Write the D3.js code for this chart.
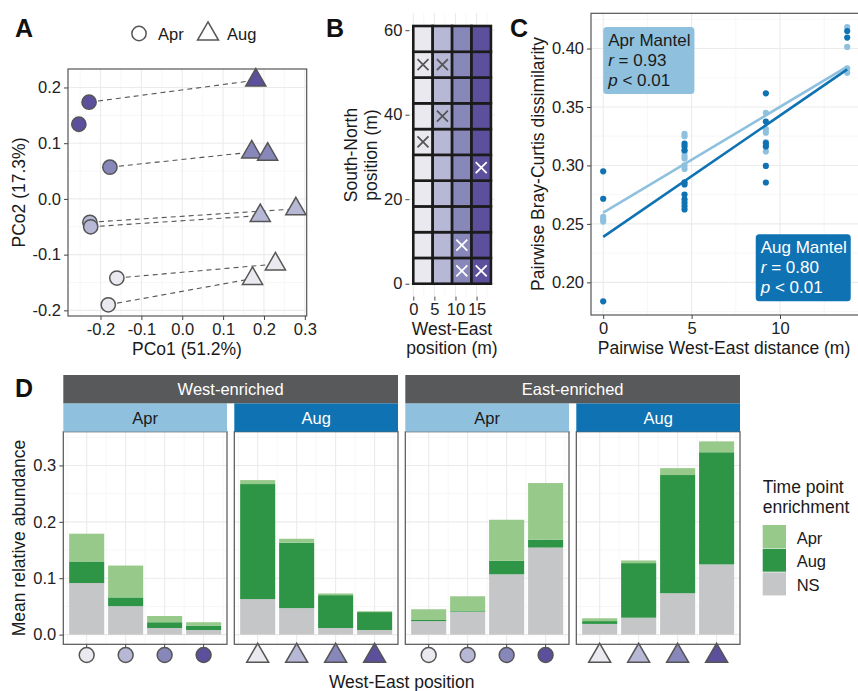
<!DOCTYPE html>
<html>
<head>
<meta charset="utf-8">
<script src="https://cdn.jsdelivr.net/npm/d3@7"></script>
<style>
  body { margin: 0; background: #fff; }
  svg text { font-family: "Liberation Sans", Arial, Helvetica, sans-serif; }
</style>
</head>
<body>
<svg id="fig" width="858" height="691"></svg>
<script>
// ---------- data ----------
// west -> east sampling columns (1 = west, 4 = east)
const weColors = ["#e9e9ef", "#b7b7d6", "#8887ba", "#5c4f9c"];

// A: PCoA scores
const aprCol = [4, 4, 3, 2, 2, 1, 1];
const aprPC1 = [-0.228, -0.253, -0.177, -0.226, -0.224, -0.160, -0.181];
const aprPC2 = [0.1735, 0.134, 0.057, -0.042, -0.050, -0.142, -0.190];
const augCol = [4, 3, 3, 2, 2, 1, 1];
const augPC1 = [0.180, 0.170, 0.209, 0.278, 0.191, 0.228, 0.172];
const augPC2 = [0.213, 0.084, 0.080, -0.018, -0.030, -0.117, -0.143];
// same plot sampled at both time points: [apr index, aug index]
const pcoaPairs = [[0, 0], [2, 1], [3, 3], [4, 4], [5, 5], [6, 6]];

// B: sampling grid
const gridWE = [0, 4.6, 9.2, 13.8];
const gridSN = [0, 6.1, 12.2, 18.3, 24.4, 30.5, 36.6, 42.7, 48.8, 54.9];
const cellW = 4.6, cellH = 6.1;
const missWE = [0, 4.6, 4.6, 0, 13.8, 9.2, 9.2, 13.8];
const missSN = [48.8, 48.8, 36.6, 30.5, 24.4, 6.1, 0, 0];

// C: pairwise distance vs Bray-Curtis
const pairDist = [0, 4.6, 9.2, 13.8];
const aprBC = [
  [0.256, 0.254, 0.252],
  [0.327, 0.325, 0.313, 0.311, 0.308, 0.306, 0.300, 0.297],
  [0.345, 0.331, 0.328, 0.320, 0.317, 0.312],
  [0.4184, 0.4014, 0.383, 0.3792]
];
const augBC = [
  [0.295, 0.2715, 0.1838],
  [0.3186, 0.3163, 0.3129, 0.2856, 0.2837, 0.2751, 0.2709, 0.2681, 0.2652, 0.2624],
  [0.3617, 0.3375, 0.3192, 0.3163, 0.2996, 0.2854],
  [0.415, 0.4094]
];
const mantelApr = ["Apr Mantel", "r", "0.93", "0.01"];
const mantelAug = ["Aug Mantel", "r", "0.80", "0.01"];

// D: mean relative abundance per west-east position (segments, not cumulative)
const positions = [1, 2, 3, 4];
const westAprNS  = [0.0915, 0.0505, 0.0118, 0.0082];
const westAprAug = [0.0382, 0.0155, 0.0102, 0.0078];
const westAprApr = [0.0493, 0.0565, 0.0110, 0.0060];
const westAugNS  = [0.063, 0.047, 0.0118, 0.0082];
const westAugAug = [0.204, 0.116, 0.0582, 0.0318];
const westAugApr = [0.007, 0.007, 0.003, 0.0015];
const eastAprNS  = [0.024, 0.0405, 0.107, 0.1544];
const eastAprAug = [0.002, 0.0012, 0.024, 0.0141];
const eastAprApr = [0.019, 0.0263, 0.0727, 0.1003];
const eastAugNS  = [0.019, 0.030, 0.0734, 0.1245];
const eastAugAug = [0.005, 0.0968, 0.2096, 0.1989];
const eastAugApr = [0.005, 0.0047, 0.0122, 0.0193];
const enrichKeys = ["NS", "Aug", "Apr"];
const enrichColors = {Apr: "#97c98a", Aug: "#2e9546", NS: "#c5c6c8"};
const timeColors = {Apr: "#8fc1df", Aug: "#0f72b3"};

// ---------- helpers ----------
const svg = d3.select("#fig");
const fmt = d3.formatLocale({decimal: ".", thousands: ",", grouping: [3], currency: ["", ""], minus: "-"}).format;
const ff = '"Liberation Sans", Arial, Helvetica, sans-serif';

function expand(ext, f = 0.05) {
  let d = (ext[1] - ext[0]) * f;
  return [ext[0] - d, ext[1] + d];
}

// theme_bw-like grid (pixel positions)
function drawGrid(g, xr, yr, xMaj, xMin, yMaj, yMin) {
  let gg = g.append("g");
  let v = (arr, w, c) => gg.append("g").selectAll("line").data(arr).join("line")
    .attr("x1", d => d).attr("x2", d => d).attr("y1", yr[0]).attr("y2", yr[1])
    .attr("stroke", c).attr("stroke-width", w);
  let h = (arr, w, c) => gg.append("g").selectAll("line").data(arr).join("line")
    .attr("y1", d => d).attr("y2", d => d).attr("x1", xr[0]).attr("x2", xr[1])
    .attr("stroke", c).attr("stroke-width", w);
  v(xMin, 0.6, "#f2f2f2"); h(yMin, 0.6, "#f2f2f2");
  v(xMaj, 1.1, "#ebebeb"); h(yMaj, 1.1, "#ebebeb");
}

function border(g, x0, y0, x1, y1) {
  g.append("rect").attr("x", x0).attr("y", y0).attr("width", x1 - x0).attr("height", y1 - y0)
    .attr("fill", "none").attr("stroke", "#555").attr("stroke-width", 1.2);
}

function styleAxis(a) {
  a.attr("font-family", ff).attr("font-size", 16.5);
  a.select(".domain").remove();
  a.selectAll(".tick line").attr("stroke", "#444");
  a.selectAll(".tick text").attr("fill", "#222");
}

function label(x, y, txt, opts = {}) {
  let t = svg.append("text").attr("x", x).attr("y", y).text(txt)
    .attr("font-size", opts.size || 17.5).attr("fill", opts.fill || "#1a1a1a")
    .attr("text-anchor", opts.anchor || "middle");
  if (opts.rotate) t.attr("transform", `rotate(-90,${x},${y})`);
  if (opts.bold) t.attr("font-weight", "bold");
  return t;
}

function shape(sel, type, col, size) {
  sel.attr("d", d3.symbol(type === "Aug" ? d3.symbolTriangle : d3.symbolCircle, size))
    .attr("fill", col).attr("stroke", "#555").attr("stroke-width", 1.5);
}

function lm(xs, ys) {
  let mx = d3.mean(xs), my = d3.mean(ys);
  let sxy = d3.sum(xs, (x, i) => (x - mx) * (ys[i] - my));
  let sxx = d3.sum(xs, x => (x - mx) * (x - mx));
  let b = sxy / sxx;
  return [my - b * mx, b];
}

// panel letters
[["A", 15, 37], ["B", 326, 37], ["C", 510, 37], ["D", 15, 397]].forEach(([t, x, y]) =>
  label(x, y, t, {size: 25, bold: true, anchor: "start", fill: "#111"}));

// ---------- A: PCoA ----------
{
  let g = svg.append("g");
  let x = d3.scaleLinear().domain(expand(d3.extent([...aprPC1, ...augPC1]))).range([68, 306.7]);
  let y = d3.scaleLinear().domain(expand(d3.extent([...aprPC2, ...augPC2]))).range([316, 69]);
  drawGrid(g, x.range(), y.range(),
    [-0.2, -0.1, 0, 0.1, 0.2, 0.3].map(x), [-0.25, -0.15, -0.05, 0.05, 0.15, 0.25].map(x),
    [-0.2, -0.1, 0, 0.1, 0.2].map(y), [-0.15, -0.05, 0.05, 0.15].map(y));

  g.append("g").selectAll("line").data(pcoaPairs).join("line")
    .attr("x1", d => x(aprPC1[d[0]])).attr("y1", d => y(aprPC2[d[0]]))
    .attr("x2", d => x(augPC1[d[1]])).attr("y2", d => y(augPC2[d[1]]))
    .attr("stroke", "#555").attr("stroke-width", 1.1).attr("stroke-dasharray", "5,4");

  g.append("g").selectAll("path").data(aprPC1).join("path")
    .attr("transform", (d, i) => `translate(${x(d)},${y(aprPC2[i])})`)
    .call(s => shape(s, "Apr", null, 160))
    .attr("fill", (d, i) => weColors[aprCol[i] - 1]);
  g.append("g").selectAll("path").data(augPC1).join("path")
    .attr("transform", (d, i) => `translate(${x(d)},${y(augPC2[i])})`)
    .call(s => shape(s, "Aug", null, 175))
    .attr("fill", (d, i) => weColors[augCol[i] - 1]);

  border(g, 68, 69, 306.7, 316);
  g.append("g").attr("transform", "translate(68,0)")
    .call(d3.axisLeft(y).tickValues([-0.2, -0.1, 0, 0.1, 0.2]).tickFormat(fmt(".1f")).tickSize(4).tickPadding(3))
    .call(styleAxis);
  g.append("g").attr("transform", "translate(0,316)")
    .call(d3.axisBottom(x).tickValues([-0.2, -0.1, 0, 0.1, 0.2, 0.3]).tickFormat(fmt(".1f")).tickSize(4).tickPadding(3))
    .call(styleAxis);

  label(187, 355, "PCo1 (51.2%)");
  label(25, 192.5, "PCo2 (17.3%)", {rotate: true});

  // shape legend
  let lg = svg.append("g");
  lg.append("path").attr("transform", "translate(139,33.5)").call(s => shape(s, "Apr", "#fff", 160));
  lg.append("path").attr("transform", "translate(208,34)").call(s => shape(s, "Aug", "#fff", 190));
  label(158, 40, "Apr", {anchor: "start", size: 16.5});
  label(227, 40, "Aug", {anchor: "start", size: 16.5});
}

// ---------- B: sampling grid ----------
{
  let g = svg.append("g");
  let x = d3.scaleLinear().domain(expand([0, gridWE[3] + cellW])).range([409.4, 494.8]);
  let y = d3.scaleLinear().domain(expand([0, gridSN[9] + cellH])).range([296.6, 13.1]);
  drawGrid(g, x.range(), y.range(),
    [0, 5, 10, 15].map(x), [2.5, 7.5, 12.5, 17.5].map(x),
    [0, 20, 40, 60].map(y), [10, 30, 50].map(y));

  let cells = gridSN.flatMap(sn => gridWE.map((we, c) => ({we, sn, c})));
  g.append("g").selectAll("rect").data(cells).join("rect")
    .attr("x", d => x(d.we)).attr("y", d => y(d.sn + cellH))
    .attr("width", x(cellW) - x(0)).attr("height", y(0) - y(cellH))
    .attr("fill", d => weColors[d.c]).attr("stroke", "#1b1b1b").attr("stroke-width", 2.6);

  let k = 5.5;
  g.append("g").selectAll("path").data(missWE).join("path")
    .attr("d", (d, i) => {
      let cx = x(d + cellW / 2), cy = y(missSN[i] + cellH / 2);
      return `M${cx - k},${cy - k}L${cx + k},${cy + k}M${cx - k},${cy + k}L${cx + k},${cy - k}`;
    })
    .attr("stroke", d => gridWE.indexOf(d) >= 2 ? "#fff" : "#555").attr("stroke-width", 1.8);

  g.append("g").attr("transform", "translate(409.4,0)")
    .call(d3.axisLeft(y).tickValues([0, 20, 40, 60]).tickSize(4).tickPadding(3))
    .call(styleAxis);
  g.append("g").attr("transform", "translate(0,296.6)")
    .call(d3.axisBottom(x).tickValues([0, 5, 10, 15]).tickSize(4).tickPadding(3))
    .call(styleAxis);

  label(357, 155, "South-North", {rotate: true});
  label(377, 155, "position (m)", {rotate: true});
  label(452, 335, "West-East");
  label(452, 354, "position (m)");
}

// ---------- C: distance decay ----------
{
  let g = svg.append("g");
  let allBC = [...aprBC.flat(), ...augBC.flat()];
  let x = d3.scaleLinear().domain(expand([0, pairDist[3]])).range([591, 859.4]);
  let y = d3.scaleLinear().domain(expand(d3.extent(allBC))).range([315, 13.3]);
  drawGrid(g, x.range(), y.range(),
    [0, 5, 10].map(x), [2.5, 7.5, 12.5].map(x),
    [0.2, 0.25, 0.3, 0.35, 0.4].map(y), [0.175, 0.225, 0.275, 0.325, 0.375, 0.425].map(y));

  let pts = (bc, t) => bc.flatMap((vals, i) => vals.map(v => ({d: pairDist[i], v, t})));
  let aprPts = pts(aprBC, "Apr"), augPts = pts(augBC, "Aug");
  g.append("g").selectAll("circle").data([...aprPts, ...augPts]).join("circle")
    .attr("cx", d => x(d.d)).attr("cy", d => y(d.v)).attr("r", 3.1)
    .attr("fill", d => timeColors[d.t]);

  [[aprPts, "Apr"], [augPts, "Aug"]].forEach(([p, t]) => {
    let [a, b] = lm(p.map(d => d.d), p.map(d => d.v));
    g.append("line")
      .attr("x1", x(0)).attr("y1", y(a)).attr("x2", x(pairDist[3])).attr("y2", y(a + b * pairDist[3]))
      .attr("stroke", timeColors[t]).attr("stroke-width", 2.6);
  });

  // Mantel labels
  function mantel(m, px, py, hj, vj, fill, txtCol) {
    let lg = svg.append("g");
    let tg = lg.append("g").attr("font-size", 17).attr("fill", txtCol);
    tg.append("text").attr("y", 0).text(m[0]);
    let t2 = tg.append("text").attr("y", 20);
    t2.append("tspan").attr("font-style", "italic").text(m[1]);
    t2.append("tspan").text(" = " + m[2]);
    let t3 = tg.append("text").attr("y", 40);
    t3.append("tspan").attr("font-style", "italic").text("p");
    t3.append("tspan").text(" < " + m[3]);
    let bb = tg.node().getBBox();
    let pad = 4;
    let w = bb.width + 2 * pad, h = bb.height + 2 * pad;
    let bx = px - hj * w, by = py - vj * h;
    lg.insert("rect", "g").attr("x", bx).attr("y", by).attr("width", w).attr("height", h)
      .attr("rx", 3.5).attr("fill", fill);
    tg.attr("transform", `translate(${bx + pad - bb.x},${by + pad - bb.y})`);
  }
  mantel(mantelApr, x(0), y(d3.max(allBC)), 0, 0, timeColors.Apr, "#1a1a1a");
  mantel(mantelAug, x(14), y(d3.min(allBC)), 1, 1, timeColors.Aug, "#fff");

  border(g, 591, 13.3, 859.4, 315);
  g.append("g").attr("transform", "translate(591,0)")
    .call(d3.axisLeft(y).tickValues([0.2, 0.25, 0.3, 0.35, 0.4]).tickFormat(fmt(".2f")).tickSize(4).tickPadding(3))
    .call(styleAxis);
  g.append("g").attr("transform", "translate(0,315)")
    .call(d3.axisBottom(x).tickValues([0, 5, 10]).tickSize(4).tickPadding(3))
    .call(styleAxis);

  label(724, 354, "Pairwise West-East distance (m)");
  label(543.5, 164, "Pairwise Bray-Curtis dissimilarity", {rotate: true});
}

// ---------- D: stacked bars ----------
{
  let facets = [
    {group: "West-enriched", time: "Apr", NS: westAprNS, Aug: westAprAug, Apr: westAprApr},
    {group: "West-enriched", time: "Aug", NS: westAugNS, Aug: westAugAug, Apr: westAugApr},
    {group: "East-enriched", time: "Apr", NS: eastAprNS, Aug: eastAprAug, Apr: eastAprApr},
    {group: "East-enriched", time: "Aug", NS: eastAugNS, Aug: eastAugAug, Apr: eastAugApr}
  ];
  let left = 63.3, right = 740, gap = 7.3;
  let pw = (right - left - 3 * gap) / 4;
  let top = 431.7, bottom = 644.3;
  let stack = d3.stack().keys(enrichKeys);
  let rows = facets.map(f => positions.map((p, i) => ({pos: p, NS: f.NS[i], Aug: f.Aug[i], Apr: f.Apr[i]})));
  let ymax = d3.max(rows.flat(), d => d.NS + d.Aug + d.Apr);
  let y = d3.scaleLinear().domain(expand([0, ymax])).range([bottom, top]);

  facets.forEach((f, fi) => {
    let x0 = left + fi * (pw + gap);
    let x = d3.scaleBand().domain(positions).range([x0, x0 + pw]).paddingInner(0.1).paddingOuter(0.15);
    let g = svg.append("g");
    let centers = positions.map(p => x(p) + x.bandwidth() / 2);
    drawGrid(g, [x0, x0 + pw], [bottom, top],
      centers, [...centers.map(c => c - x.step() / 2), centers[3] + x.step() / 2],
      [0, 0.1, 0.2, 0.3].map(y), [0.05, 0.15, 0.25, 0.35].map(y));

    g.append("g").selectAll("g").data(stack(rows[fi])).join("g")
      .attr("fill", d => enrichColors[d.key])
      .selectAll("rect").data(d => d).join("rect")
      .attr("x", d => x(d.data.pos)).attr("width", x.bandwidth())
      .attr("y", d => y(d[1])).attr("height", d => y(d[0]) - y(d[1]));

    border(g, x0, top, x0 + pw, bottom);

    // time strip
    g.append("rect").attr("x", x0).attr("y", 403.3).attr("width", pw).attr("height", top - 403.3)
      .attr("fill", timeColors[f.time]);
    label(x0 + pw / 2, 423.5, f.time, {size: 16.5, fill: f.time === "Aug" ? "#fff" : "#1a1a1a"});

    // x axis: ticks + site symbols
    g.append("g").attr("transform", `translate(0,${bottom})`)
      .call(d3.axisBottom(x).tickSize(4).tickFormat(""))
      .call(styleAxis);
    g.append("g").selectAll("path").data(positions).join("path")
      .attr("transform", p => `translate(${x(p) + x.bandwidth() / 2},${f.time === "Aug" ? 656 : 655})`)
      .call(s => shape(s, f.time, null, f.time === "Aug" ? 210 : 175))
      .attr("fill", p => weColors[p - 1]);

    if (fi === 0) {
      g.append("g").attr("transform", `translate(${x0},0)`)
        .call(d3.axisLeft(y).tickValues([0, 0.1, 0.2, 0.3]).tickFormat(fmt(".1f")).tickSize(4).tickPadding(3))
        .call(styleAxis);
    }
  });

  // group strips
  ["West-enriched", "East-enriched"].forEach((grp, gi) => {
    let x0 = left + gi * 2 * (pw + gap);
    let w = 2 * pw + gap;
    svg.append("rect").attr("x", x0).attr("y", 375).attr("width", w).attr("height", 28.3).attr("fill", "#58595b");
    label(x0 + w / 2, 395, grp, {size: 16.5, fill: "#fff"});
  });

  label(401.7, 688, "West-East position");
  label(25, 538, "Mean relative abundance", {rotate: true});

  // fill legend
  let lg = svg.append("g");
  label(762.7, 493.3, "Time point", {anchor: "start"});
  label(762.7, 513.3, "enrichment", {anchor: "start"});
  ["Apr", "Aug", "NS"].forEach((k, i) => {
    lg.append("rect").attr("x", 762.7).attr("y", 525 + i * 23.7).attr("width", 23.3).attr("height", 23)
      .attr("fill", enrichColors[k]);
    label(796.7, 543.5 + i * 23.7, k, {anchor: "start", size: 16.5});
  });
}
</script>
</body>
</html>
